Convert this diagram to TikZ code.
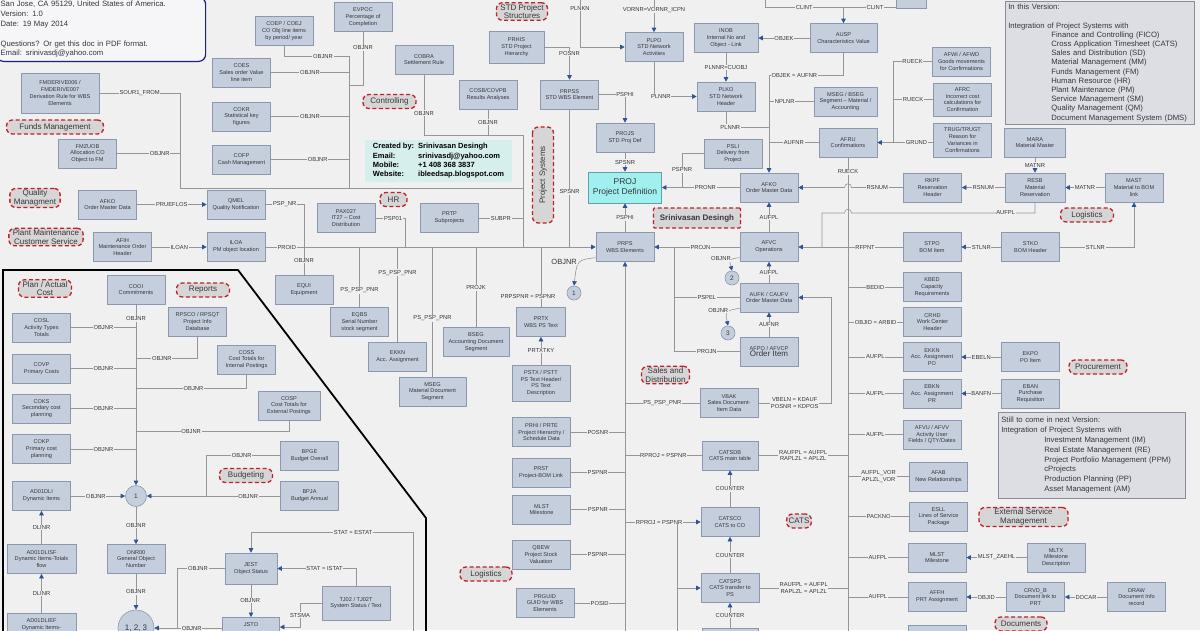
\documentclass[tikz,border=0pt]{standalone}
\usepackage{fontspec}
\setmainfont{Liberation Sans}
\usepackage{xcolor}
\usepackage{tikz}
\usetikzlibrary{arrows.meta,positioning}
\definecolor{bg}{RGB}{240,240,240}
\definecolor{boxfill}{RGB}{197,206,220}
\definecolor{boxline}{RGB}{140,152,172}
\definecolor{ink}{RGB}{55,55,60}
\definecolor{wire}{RGB}{150,150,150}
\definecolor{arrowblue}{RGB}{47,84,150}
\definecolor{tagred}{RGB}{192,32,40}
\definecolor{tagfill}{RGB}{214,214,214}
\definecolor{projfill}{RGB}{160,240,240}
\definecolor{projline}{RGB}{100,160,170}
\definecolor{credfill}{RGB}{214,238,236}
\definecolor{navy}{RGB}{30,30,130}
\definecolor{infofill}{RGB}{246,246,248}
\definecolor{versfill}{RGB}{220,222,228}
\definecolor{versline}{RGB}{140,140,150}

\begin{document}
\begin{tikzpicture}[x=1pt, y=-1pt,
  tbl/.style={draw=boxline, fill=boxfill, line width=0.6pt, minimum width=58pt, minimum height=29pt, inner sep=1pt, align=center, text=ink, font=\fontsize{5.6}{6.8}\selectfont},
  projbox/.style={tbl, fill=projfill, draw=projline, minimum width=73pt, minimum height=31pt, font=\fontsize{8.5}{10}\selectfont},
  circ/.style={circle, draw=boxline, fill=boxfill, line width=0.6pt, minimum size=14pt, inner sep=0pt, text=ink, font=\fontsize{6.5}{7}\selectfont},
  tag/.style={draw=tagred, dash pattern=on 4pt off 2.5pt, line width=1.3pt, fill=tagfill, rounded corners=6pt, inner xsep=4pt, inner ysep=1.5pt, minimum height=14pt, align=center, text=ink, font=\fontsize{8}{8.6}\selectfont},
  link/.style={draw=wire, line width=0.6pt},
  arr/.style={link, -{Triangle[length=4.5pt, width=4.5pt, color=arrowblue]}},
  lbl/.style={fill=bg, inner sep=0.7pt, align=center, text=ink, font=\fontsize{5.8}{6.6}\selectfont},
  note/.style={align=left, text=ink, font=\fontsize{7.7}{9.8}\selectfont}
]
  \path[use as bounding box, fill=bg] (0,0) rectangle (1200,630);
  \clip (0,0) rectangle (1200,630);

  % tables
  \node[tbl] (coep) at (284,31) {COEP / COEJ\\CO Obj  line items\\by period/ year};
  \node[tbl] (coes) at (241.5,72.5) {COES\\Sales order Value\\line item};
  \node[tbl] (cokr) at (241.5,116.5) {COKR\\Statistical key\\figures};
  \node[tbl] (cofp) at (241.5,159.5) {COFP\\Cash Management};
  \node[tbl, minimum width=78pt, minimum height=40pt] (fmderive) at (60,93) {FMDERIVE006 /\\FMDERIVE007\\Derivation Rule for WBS\\Elements};
  \node[tbl] (fmzuob) at (87.5,153.5) {FMZUOB\\Allocation CO\\Object to FM};
  \node[tbl] (afkoqm) at (107.5,204.5) {AFKO\\Order Master Data};
  \node[tbl] (qmel) at (236,204.5) {QMEL\\Quality Notification};
  \node[tbl] (afih) at (122.5,247) {AFIH\\Maintenance Order\\Header};
  \node[tbl] (iloa) at (236,247) {ILOA\\PM object location};
  \node[tbl] (equi) at (304,289.5) {EQUI\\Equipment};
  \node[tbl] (pax) at (346,218) {PAX027\\IT27 -- Cost\\Distribution};
  \node[tbl] (prtp) at (449.5,218) {PRTP\\Subprojects};
  \node[tbl] (evpoc) at (363,17) {EVPOC\\Percentage of\\Completion};
  \node[tbl] (cobra) at (424,59.5) {COBRA\\Settlement Rule};
  \node[tbl] (cosb) at (488,94.5) {COSB/COVPB\\Results Analyses};
  \node[tbl, minimum width=55pt, minimum height=32pt] (prhis) at (516.5,47) {PRHIS\\STD Project\\Hierarchy};
  \node[tbl] (prpss) at (569.5,94.5) {PRPSS\\STD WBS Element};
  \node[tbl] (projs) at (625,137.5) {PROJS\\STD Proj Def};
  \node[projbox] (proj) at (625,187.5) {PROJ\\Project Definition};
  \node[tbl] (plpo) at (654,47) {PLPO\\STD Network\\Activities};
  \node[tbl, minimum width=64pt] (inob) at (726,38) {INOB\\Internal No and\\Object - Link};
  \node[tbl, minimum width=67pt] (ausp) at (843.5,38) {AUSP\\Characteristics Value};
  \node[tbl, anchor=south west, minimum width=30pt, minimum height=24pt] (clintbox) at (896,9) {};
  \node[tbl] (plko) at (726,96.5) {PLKO\\STD Network\\Header};
  \node[tbl, minimum width=63pt] (msegbseg) at (845.5,101.5) {MSEG / BSEG\\Segment -- Material /\\Accounting};
  \node[tbl] (afru) at (848,142.5) {AFRU\\Confirmations};
  \node[tbl] (psli) at (733,153.5) {PSLI\\Delivery from\\Project};
  \node[tbl] (afko) at (769,187.5) {AFKO\\Order Master Data};
  \node[tbl] (afwi) at (961.5,61.5) {AFWI / AFWD\\Goods movements\\for Confirmations};
  \node[tbl, minimum height=33pt] (afrc) at (962.5,99.5) {AFRC\\Incorrect cost\\calculations for\\Confirmation};
  \node[tbl, minimum height=34pt] (trug) at (962.5,140) {TRUG/TRUGT\\Reason for\\Variances in\\Confirmations};
  \node[tbl, minimum width=61pt] (mara) at (1035,142.5) {MARA\\Material Master};
  \node[tbl] (rkpf) at (932.5,187.5) {RKPF\\Reservation\\Header};
  \node[tbl, minimum width=60pt] (resb) at (1035,187.5) {RESB\\Material\\Reservation};
  \node[tbl] (mast) at (1134,187.5) {MAST\\Material to BOM\\link};
  \node[tbl] (stpo) at (932,247) {STPO\\BOM Item};
  \node[tbl] (stko) at (1030.5,247) {STKO\\BOM Header};
  \node[tbl] (prps) at (625,247) {PRPS\\WBS Elements};
  \node[tbl] (afvc) at (769,247) {AFVC\\Operations};
  \node[tbl] (aufk) at (769,297.5) {AUFK / CAUFV\\Order Master Data};
  \node[tbl] (afpo) at (769,351.5) {AFPO / AFVCP\\{\fontsize{8}{9}\selectfont Order Item}};
  \node[tbl] (kbed) at (932,287) {KBED\\Capacity\\Requirements};
  \node[tbl] (crhd) at (932.5,322) {CRHD\\Work Center\\Header};
  \node[tbl] (ekknpo) at (932,357) {EKKN\\Acc. Assignment\\PO};
  \node[tbl] (ebkn) at (932,393.5) {EBKN\\Acc. Assignment\\PR};
  \node[tbl] (ekpo) at (1030.5,357) {EKPO\\PO Item};
  \node[tbl] (eban) at (1030.5,393.5) {EBAN\\Purchase\\Requisition};
  \node[tbl] (afvu) at (932,434.5) {AFVU / AFVV\\Activity User\\Fields / QTY/Dates};
  \node[tbl] (afab) at (938.5,476.5) {AFAB\\New Relationships};
  \node[tbl] (esll) at (938.5,516.5) {ESLL\\Lines of Service\\Package};
  \node[tbl] (mlstr) at (937,557.5) {MLST\\Milestone};
  \node[tbl] (mltx) at (1056,557.5) {MLTX\\Milestone\\Description};
  \node[tbl] (affh) at (937,597) {AFFH\\PRT Assignment};
  \node[tbl, anchor=north] (affhx) at (937,625) {};
  \node[tbl] (crvd) at (1035.5,597) {CRVD\_B\\Document link to\\PRT};
  \node[tbl] (drawtbl) at (1136.5,597) {DRAW\\Document Info\\record};
  \node[tbl] (vbak) at (729,403) {VBAK\\Sales Document-\\Item Data};
  \node[tbl, minimum width=56pt] (catsdb) at (730,455.5) {CATSDB\\CATS main table};
  \node[tbl] (catsco) at (730,522) {CATSCO\\CATS to CO};
  \node[tbl] (catsps) at (730,588) {CATSPS\\CATS transfer to\\PS};
  \node[tbl, anchor=north, minimum width=56pt] (catsx) at (730,628) {};
  \node[tbl] (prhi) at (541.5,432) {PRHI / PRTE\\Project Hierarchy /\\Schedule Data};
  \node[tbl] (prst) at (541,472.5) {PRST\\Project-BOM Link};
  \node[tbl] (mlstm) at (541.5,509.5) {MLST\\Milestone};
  \node[tbl] (qbew) at (541,554.5) {QBEW\\Project Stock\\Valuation};
  \node[tbl] (prguid) at (545,603) {PRGUID\\GUID for WBS\\Elements};
  \node[tbl, minimum width=49pt] (prtx) at (541,322) {PRTX\\WBS PS Text};
  \node[tbl, minimum height=36pt] (pstx) at (541,383) {PSTX / PSTT\\PS Text Header/\\PS Text\\Description};
  \node[tbl] (eqbs) at (359.5,322) {EQBS\\Serial Number\\stock segment};
  \node[tbl] (ekkn) at (397.5,357) {EKKN\\Acc. Assignment};
  \node[tbl, minimum width=67pt] (mseg) at (432.5,391.5) {MSEG\\Material Document\\Segment};
  \node[tbl, minimum width=66pt] (bseg) at (476,342) {BSEG\\Accounting Document\\Segment};
  \node[tbl] (cooi) at (136,289.5) {COOI\\Commitments};
  \node[tbl] (rpsco) at (197.5,321.5) {RPSCO / RPSQT\\Project Info\\Database};
  \node[tbl] (cosl) at (41.5,327.5) {COSL\\Activity Types\\Totals};
  \node[tbl] (covp) at (41.5,368.5) {COVP\\Primary Costs};
  \node[tbl] (coss) at (246.5,359.5) {COSS\\Cost Totals for\\Internal Postings};
  \node[tbl] (coks) at (41.5,408.5) {COKS\\Secondary cost\\planning};
  \node[tbl, minimum width=62pt] (cosp) at (289,405.5) {COSP\\Cost Totals for\\External Postings};
  \node[tbl] (cokp) at (41.5,449) {COKP\\Primary cost\\planning};
  \node[tbl] (dli) at (41.5,496) {AD01DLI\\Dynamic Items};
  \node[tbl, minimum width=69pt] (dlisf) at (41.5,559) {AD01DLISF\\Dynamic Items-Totals\\flow};
  \node[tbl, anchor=north, minimum width=69pt, minimum height=22pt] (dlief) at (41.5,613) {AD01DLIEF\\Dynamic Items-};
  \node[tbl] (onr) at (136,559) {ONR00\\General Object\\Number};
  \node[tbl, minimum width=52pt, minimum height=31pt] (jest) at (251,568.5) {JEST\\Object Status};
  \node[tbl, anchor=north, minimum width=57pt, minimum height=14pt] (jsto) at (251,617) {JSTO};
  \node[tbl, minimum width=68pt, minimum height=34pt] (tj02) at (356,603) {TJ02 / TJ02T\\System Status / Text};
  \node[tbl] (bpge) at (309.5,455.5) {BPGE\\Budget Overall};
  \node[tbl] (bpja) at (309.5,496) {BPJA\\Budget Annual};
  \node[circ, minimum size=21pt] (c1l) at (136,496) {1};
  \node[circ, minimum size=36pt, font=\fontsize{8}{9}\selectfont] (c123) at (136,628) {1, 2, 3};
  \node[circ] (c1) at (574,293) {1};
  \node[circ] (c2) at (732,278) {2};
  \node[circ] (c3) at (728,333) {3};

  % free ends and junctions
  \coordinate (busfm) at (180,188);
  \coordinate (cobus) at (349,56);
  \coordinate (evj) at (349,85);
  \coordinate (cbj) at (523,135);
  \coordinate (jps) at (523,247);
  \coordinate (paxj) at (405,247);
  \coordinate (plnkn) at (580,-5);
  \coordinate (vornr) at (654,-5);
  \coordinate (clintl) at (765,-5);
  \coordinate (clintj) at (843.5,7);
  \coordinate (oaj) at (769,75);
  \coordinate (plj) at (769,127);
  \coordinate (pspj) at (682,187.5);
  \coordinate (rueckj) at (893,142.5);
  \coordinate (rbot) at (848,640);
  \coordinate (aj1) at (822,213);
  \coordinate (aj2) at (822,247);
  \coordinate (pjv) at (674,247);
  \coordinate (vbj) at (831,297.5);
  \coordinate (pv) at (625,640);
  \coordinate (cj) at (677,640);
  \coordinate (rpj) at (136,358);
  \coordinate (cosj) at (136,388);
  \coordinate (cospj) at (136,431);
  \coordinate (bj) at (206,496);
  \coordinate (jl) at (177,628);
  \coordinate (esj) at (413,640);
  \coordinate (esj2) at (251,532);
  \coordinate (stj) at (300,627);

  \draw[line width=1.8pt, black] (3,640) -- (3,270) -- (238,270) -- (426,518) -- (426,640);

  \foreach \a/\b/\t in {
    afkoqm/qmel/PRUEFLOS, afih/iloa/ILOAN, inob/plko/{PLNNR=CUOBJ}, ausp/inob/OBJEK,
    mara/resb/MATNR, mast/resb/MATNR, resb/rkpf/RSNUM, stko/stpo/STLNR,
    ekpo/ekknpo/EBELN, eban/ebkn/BANFN, mltx/mlstr/{MLST\_ZAEHL}, crvd/affh/OBJID,
    drawtbl/crvd/DOCAR, projs/proj/SPSNR, prps/proj/PSPHI, afvc/afko/AUFPL,
    aufk/afvc/AUFPL, afpo/aufk/AUFNR, pstx/prtx/PRTXTKY, catsco/catsdb/COUNTER,
    catsps/catsco/COUNTER, catsx/catsps/COUNTER, dlisf/dli/DLINR, dlief/dlisf/DLINR,
    c1l/onr/OBJNR, onr/c123/OBJNR, jest/jsto/OBJNR
  }{
    \draw[arr] (\a)--(\b) node[lbl, midway]{\t};
  }

  % controlling side
  \draw[link] (fmderive.east) -- (fmderive.east -| busfm) node[lbl, midway]{SOUR1\_FROM} -- (busfm) -- (busfm -| cbj);
  \draw[link] (fmzuob.east) -- (fmzuob.east -| busfm) node[lbl, pos=0.68]{OBJNR};
  \draw[link] (coep.south) |- (cobus) node[lbl, pos=0.8]{OBJNR} -- (cobus |- busfm);
  \foreach \x/\p in {coes/0.5, cokr/0.5, cofp/0.6}{
    \draw[link] (\x.east) -- (\x.east -| cobus) node[lbl, pos=\p]{OBJNR};
  }
  \draw[link] (evpoc.south) |- (evj) node[lbl, pos=0.15]{OBJNR};
  \draw[link] (cobra.south) |- (cbj) node[lbl, pos=0.32]{OBJNR} -- (jps);
  \draw[link] (cosb.south) -- (cosb.south |- cbj) node[lbl, midway]{OBJNR};
  \draw[link] (qmel.east) -| (equi.north) node[lbl, pos=0.25]{PSP\_NR} node[lbl, pos=0.9]{OBJNR};
  \draw[arr] (iloa) -- (prps) node[lbl, pos=0.065]{PROID};
  \draw[link] (pax.east) -| (paxj) node[lbl, pos=0.3]{PSP01};
  \draw[link] (prtp.east) -- (prtp.east -| cbj) node[lbl, midway]{SUBPR};
  \draw[link] (prpss.south) -- (prpss.south |- prps) node[lbl, pos=0.6]{SPSNR};
  \draw[link] (eqbs.north) -- (eqbs.north |- prps) node[lbl, pos=0.28]{PS\_PSP\_PNR};
  \draw[link] (ekkn.north) -- (ekkn.north |- prps) node[lbl, pos=0.73]{PS\_PSP\_PNR};
  \draw[link] (mseg.north) -- (mseg.north |- prps) node[lbl, pos=0.45]{PS\_PSP\_PNR};
  \draw[link] (bseg.north) -- (bseg.north |- prps) node[lbl, pos=0.49]{PROJK};
  \draw[link] (prtx.north) -- (prtx.north |- prps) node[lbl, pos=0.18, xshift=-13pt]{PRPSPNR = PSPNR};
  \draw[arr] (prps.200) .. controls (577,260) .. (c1.north) node[lbl, pos=0.45, left=2pt, font=\fontsize{7.5}{8}\selectfont]{OBJNR};

  % project structures
  \draw[arr] (prpss.east) -| (projs.north) node[lbl, pos=0.5]{PSPHI};
  \draw[arr] (prhis.east) -| (prpss.north) node[lbl, pos=0.6]{POSNR};
  \draw[arr] (plnkn) |- (plpo.west) node[lbl, pos=0.13]{PLNKN};
  \draw[arr] (vornr) -- (plpo) node[lbl, pos=0.4]{VORNR=VORNR\_ICPN};
  \draw[arr] (plpo.south) |- (plko.west) node[lbl, pos=0.58]{PLNNR};
  \draw[link] (clintl) |- (clintj) node[lbl, pos=0.75]{CLINT};
  \draw[arr] (clintbox.west |- clintj) -- (clintj) node[lbl, pos=0.4]{CLINT} -- (ausp.north);
  \draw[arr] (ausp.south) |- (oaj) node[lbl, pos=0.83]{OBJEK = AUFNR} -- (afko.north);
  \draw[link] (msegbseg.west) -- (msegbseg.west -| oaj) node[lbl, pos=0.65]{NPLNR};
  \draw[link] (plko.south) |- (plj) node[lbl, pos=0.55]{PLNNR};
  \draw[link] (afru.west) -- (afru.west -| oaj) node[lbl, midway]{AUFNR};
  \draw[link] (psli.west) -| (pspj) node[lbl, pos=0.74]{PSPNR};
  \draw[arr] (afko) -- (proj) node[lbl, pos=0.44]{PRONR};

  % confirmations and logistics
  \draw[link] (afwi.west) -| (rueckj) node[lbl, pos=0.25]{RUECK};
  \draw[link] (afrc.west) -- (afrc.west -| rueckj) node[lbl, midway]{RUECK};
  \draw[arr] (trug.west |- afru) -- (afru.east) node[lbl, pos=0.3]{GRUND};
  \draw[arr] (rkpf.west) -- node[lbl]{RSNUM} (851.5,187.5) .. controls (851.5,182.5) and (844.5,182.5) .. (844.5,187.5) -- (afko.east);
  \draw[link] (afru.south) -- (rbot) node[lbl, pos=0.03]{RUECK};
  \draw[link] (resb.south) |- (851.5,213) node[lbl, pos=0.58]{AUFPL} .. controls (851.5,208) and (844.5,208) .. (844.5,213) -- (aj1) -- (aj2);
  \draw[arr] (stpo) -- (afvc) node[lbl, pos=0.36]{RFPNT};
  \draw[arr] (stko.east) -| (mast.south) node[lbl, pos=0.24]{STLNR};
  \foreach \x/\t in {kbed/BEDID, crhd/{OBJID = ARBID}, ekknpo/AUFPL, ebkn/AUFPL, afvu/AUFPL,
    afab/{AUFPL\_VOR\\APLZL\_VOR}, esll/PACKNO, mlstr/AUFPL, affh/AUFPL}{
    \draw[link] (\x.west -| rbot) -- (\x.west) node[lbl, midway]{\t};
  }

  % orders and CATS
  \draw[arr] (afvc) -- (prps) node[lbl, pos=0.46]{PROJN};
  \draw[link] (afpo.west) -- (afpo.west -| pjv) node[lbl, midway]{PROJN} -- (pjv);
  \draw[link] (aufk.west) -- (aufk.west -| pjv) node[lbl, midway]{PSPEL};
  \draw[arr] (afvc.200) .. controls (729,259) .. (c2.north) node[lbl, pos=0.3, left=1pt]{OBJNR};
  \draw[arr] (aufk.200) .. controls (725,311) .. (c3.north) node[lbl, pos=0.3, left=1pt]{OBJNR};
  \draw[arr] (vbak.east) -- node[lbl]{VBELN = KDAUF\\POSNR = KDPOS} (vbak.east -| vbj) -- (vbj) -- (aufk.east);
  \draw[arr] (pv) -- (prps);
  \draw[link] (vbak.west) -- (vbak.west -| pv) node[lbl, midway]{PS\_PSP\_PNR};
  \foreach \x/\t in {prhi/POSNR, prst/PSPNR, mlstm/PSPNR, qbew/PSPNR, prguid/POSID}{
    \draw[link] (\x.east) -- (\x.east -| pv) node[lbl, midway]{\t};
  }
  \draw[link] (pv |- catsdb) -- (catsdb.west) node[lbl, midway]{RPROJ = PSPNR};
  \draw[arr] (pv |- catsco) -- (catsco.west) node[lbl, pos=0.45]{RPROJ = PSPNR};
  \draw[link] (cj) -- (cj |- catsco);
  \draw[arr] (cj |- catsps) -- (catsps.west);
  \draw[link] (catsdb.east) -- (catsdb.east -| rbot) node[lbl, midway]{RAUFPL = AUFPL\\RAPLZL = APLZL};
  \draw[link] (catsps.east) -- (catsps.east -| rbot) node[lbl, midway]{RAUFPL = AUFPL\\RAPLZL = APLZL};

  % cost objects
  \draw[arr] (cooi) -- (c1l) node[lbl, pos=0.08]{OBJNR};
  \foreach \x in {cosl, covp, coks, cokp}{
    \draw[link] (\x.east) -- (\x.east -| cooi) node[lbl, midway]{OBJNR};
  }
  \draw[link] (rpsco.south) |- (rpj) node[lbl, pos=0.79]{OBJNR};
  \draw[link] (coss.south) |- (cosj) node[lbl, pos=0.74]{OBJNR};
  \draw[link] (cosp.south) |- (cospj) node[lbl, pos=0.82]{OBJNR};
  \draw[arr] (dli) -- (c1l) node[lbl, pos=0.46]{OBJNR};
  \draw[link] (bpge.west) -| (bj) node[lbl, pos=0.26]{OBJNR};
  \draw[arr] (bpja) -- (c1l) node[lbl, pos=0.24]{OBJNR};
  \draw[link] (jest.west) -| (jl) node[lbl, pos=0.28]{OBJNR};
  \draw[arr] (jsto.west |- c123) -- (c123) node[lbl, pos=0.45]{OBJNR};
  \draw[arr] (esj) |- (esj2) node[lbl, pos=0.685]{STAT = ESTAT} -- (jest.north);
  \draw[arr] (tj02.north) |- (jest.east) node[lbl, pos=0.7]{STAT =  ISTAT};
  \draw[arr] (tj02.west) -| (stj) node[lbl, pos=0.75]{STSMA} -- (jsto.east |- stj);

  % notes
  \node[note, draw=navy, line width=1.2pt, fill=infofill, rounded corners=7pt, anchor=south west, text width=201pt, inner sep=4pt] (info) at (-4,62)
    {San Jose, CA 95129, United States of America.\\ Version: 1.0\\ Date: 19 May 2014\\[9.8pt] Questions? Or get this doc in PDF format.\\ Email: srinivasdj@yahoo.com};
  \node[note, draw=versline, line width=0.6pt, fill=versfill, anchor=south west, text width=183pt, inner sep=3pt, font=\fontsize{7.7}{9.2}\selectfont] (version) at (1005,125)
    {In this Version:\\[9.2pt] Integration of Project Systems with\\
     \hspace*{43pt}Finance and Controlling (FICO)\\ \hspace*{43pt}Cross Application Timesheet (CATS)\\
     \hspace*{43pt}Sales and Distribution (SD)\\ \hspace*{43pt}Material Management (MM)\\
     \hspace*{43pt}Funds Management (FM)\\ \hspace*{43pt}Human Resource (HR)\\
     \hspace*{43pt}Plant Maintenance (PM)\\ \hspace*{43pt}Service Management (SM)\\
     \hspace*{43pt}Quality Management (QM)\\ \hspace*{43pt}Document Management System (DMS)};
  \node[note, draw=versline, line width=0.6pt, fill=versfill, anchor=north west, text width=181pt, inner sep=3pt, minimum height=86pt] (nextver) at (998,412)
    {Still to come in next Version:\\ Integration of Project Systems with\\
     \hspace*{43pt}Investment Management (IM)\\ \hspace*{43pt}Real Estate Management (RE)\\
     \hspace*{43pt}Project Portfolio Management (PPM)\\ \hspace*{43pt}cProjects\\
     \hspace*{43pt}Production Planning (PP)\\ \hspace*{43pt}Asset Management (AM)};
  \node[fill=credfill, minimum width=147pt, minimum height=38pt, inner sep=2pt, text=black, font=\bfseries\fontsize{7.5}{9.4}\selectfont] (cred) at (438.5,161)
    {\begin{tabular}{@{}l@{\hspace{4pt}}l@{}}
      Created by: & Srinivasan Desingh\\ Email: & srinivasdj@yahoo.com\\
      Mobile: & +1 408 368 3837\\ Website: & ibleedsap.blogspot.com
    \end{tabular}};

  % module tags
  \node[tag, minimum width=97pt] (tfunds) at (55,127) {Funds Management};
  \node[tag] (tqm) at (35,198) {Quality\\Managment};
  \node[tag] (tpm) at (46,237) {Plant Maintenance\\Customer Service};
  \node[tag] (tplan) at (45,288.5) {Plan / Actual\\Cost};
  \node[tag, minimum width=53pt] (trep) at (203,290) {Reports};
  \node[tag, minimum width=53pt] (tbud) at (246,475.5) {Budgeting};
  \node[tag, minimum width=53pt] (tctrl) at (389.5,101.5) {Controlling};
  \node[tag, minimum width=27pt] (thr) at (393.5,199.5) {HR};
  \node[tag, rotate=90, minimum width=96pt, minimum height=21pt] (tps) at (543,175) {Project Systems};
  \node[tag] (tstd) at (522,11.5) {STD Project\\Structures};
  \node[tag, rounded corners=1pt, minimum width=87pt, minimum height=20pt, font=\bfseries\fontsize{8}{8.6}\selectfont] (tname) at (697,218) {Srinivasan Desingh};
  \node[tag] (tsd) at (665.5,375) {Sales and\\Distribution};
  \node[tag, minimum width=52pt] (tlogm) at (486,574) {Logistics};
  \node[tag, inner xsep=2pt] (tcats) at (799,521) {CATS};
  \node[tag, minimum width=53pt] (tlogr) at (1087,215) {Logistics};
  \node[tag, minimum width=58pt] (tproc) at (1098,367) {Procurement};
  \node[tag, minimum width=89pt] (tesm) at (1023.5,517) {External Service\\Management};
  \node[tag, minimum width=52pt] (tdoc) at (1021,624) {Documents};
\end{tikzpicture}
\end{document}
